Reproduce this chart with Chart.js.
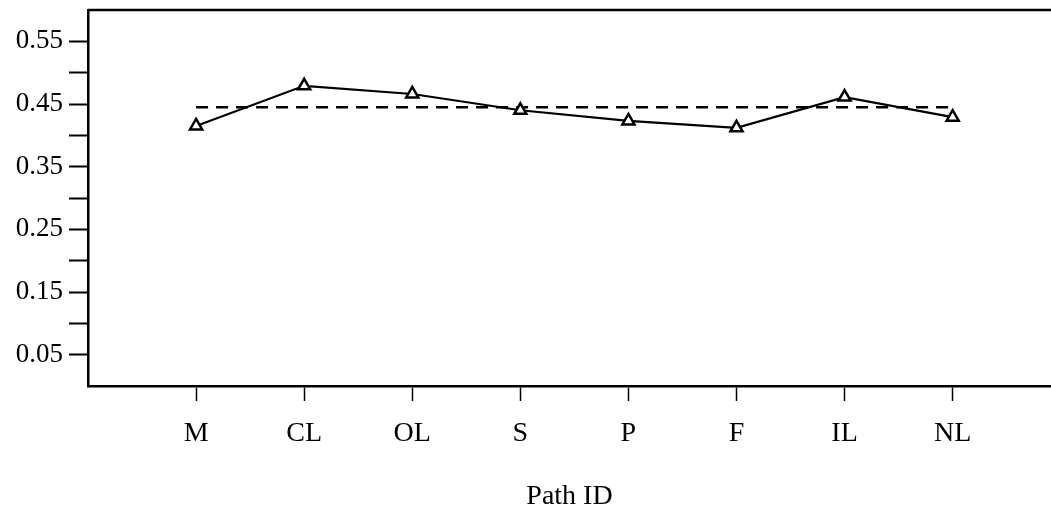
<!DOCTYPE html>
<html>
<head>
<meta charset="utf-8">
<script src="https://cdn.jsdelivr.net/npm/chart.js@4/dist/chart.umd.min.js"></script>
<style>
  html, body { margin: 0; padding: 0; background: #fff; overflow: hidden; }
</style>
</head>
<body>
<canvas id="chartCanvas" width="1051" height="514"></canvas>
<script>
// adatok
const pathIds = ["M", "CL", "OL", "S", "P", "F", "IL", "NL"];
const pathValues = [0.415, 0.479, 0.466, 0.440, 0.423, 0.412, 0.461, 0.429];
const meanValues = [0.445, 0.445, 0.445, 0.445, 0.445, 0.445, 0.445, 0.445];
const yTickLabels = ["0.05", "0.15", "0.25", "0.35", "0.45", "0.55"];

const serif = "'Liberation Serif', 'Times New Roman', serif";

// felső keretvonal
const frameTop = {
  id: "frameTop",
  afterDraw(chart) {
    const { ctx, chartArea } = chart;
    ctx.save();
    ctx.strokeStyle = "#000";
    ctx.lineWidth = 2.5;
    ctx.beginPath();
    ctx.moveTo(chartArea.left, chartArea.top);
    ctx.lineTo(chartArea.right, chartArea.top);
    ctx.stroke();
    ctx.restore();
  }
};

const chart = new Chart(document.getElementById("chartCanvas"), {
  type: "line",
  data: {
    datasets: [
      {
        data: pathValues.map((v, i) => ({ x: i + 1, y: v })),
        borderColor: "#000",
        borderWidth: 2.2,
        pointStyle: "triangle",
        pointRadius: 7,
        pointBackgroundColor: "#fff",
        pointBorderColor: "#000",
        pointBorderWidth: 2.5,
        fill: false,
        tension: 0
      },
      {
        data: meanValues.map((v, i) => ({ x: i + 1, y: v })),
        borderColor: "#000",
        borderWidth: 2.5,
        borderDash: [12, 8],
        pointRadius: 0,
        fill: false
      }
    ]
  },
  options: {
    responsive: false,
    animation: false,
    events: [],
    layout: { autoPadding: false, padding: { top: 10, right: 0, bottom: 0, left: 0 } },
    plugins: { legend: { display: false }, tooltip: { enabled: false } },
    scales: {
      x: {
        type: "linear",
        min: 0,
        max: 8.91, // a jobb oldali keret kilóg a képből
        afterFit: s => { s.height = 128; s.paddingLeft = 0; s.paddingRight = 0; },
        border: { display: true, color: "#000", width: 2.5 },
        grid: {
          drawOnChartArea: false,
          tickLength: 15,
          tickWidth: 1.5,
          tickColor: c => (c.tick && c.tick.value >= 1 && c.tick.value <= 8) ? "#000" : "rgba(0,0,0,0)"
        },
        ticks: {
          stepSize: 1,
          autoSkip: false,
          maxRotation: 0,
          padding: 16,
          color: "#000",
          font: { family: serif, size: 28 },
          callback: v => pathIds[v - 1] || ""
        },
        title: {
          display: true,
          text: "Path ID",
          color: "#000",
          font: { family: serif, size: 28 },
          padding: { top: 0, bottom: 1 }
        }
      },
      y: {
        min: 0,
        max: 0.6,
        afterFit: s => { s.width = 88; s.paddingTop = 0; s.paddingBottom = 0; },
        border: { display: true, color: "#000", width: 2.5 },
        grid: {
          drawOnChartArea: false,
          tickLength: 19,
          tickWidth: 2,
          tickColor: c => {
            const k = Math.round(c.tick.value * 100);
            return (k > 0 && k < 60) ? "#000" : "rgba(0,0,0,0)";
          }
        },
        ticks: {
          stepSize: 0.05,
          autoSkip: false,
          padding: 6,
          color: "#000",
          font: { family: serif, size: 27 },
          callback: v => {
            const label = v.toFixed(2);
            return yTickLabels.includes(label) ? label : "";
          }
        }
      }
    }
  },
  plugins: [frameTop]
});
</script>
</body>
</html>
